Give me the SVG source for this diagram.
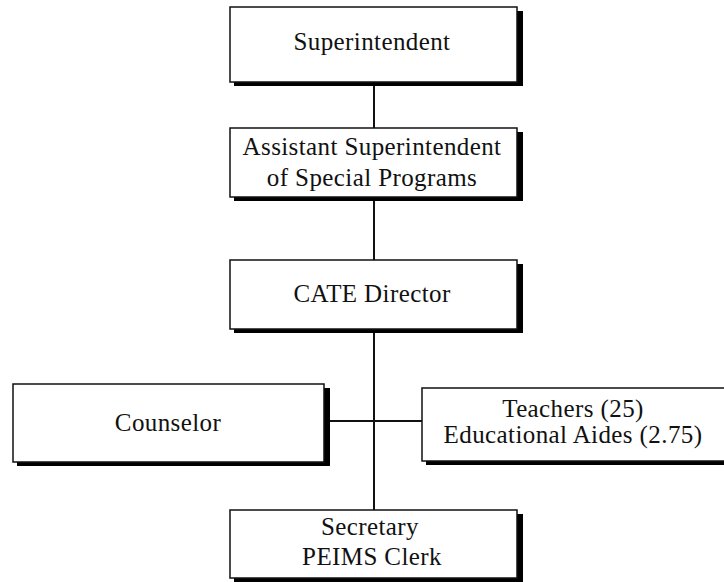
<svg xmlns="http://www.w3.org/2000/svg" width="724" height="582" viewBox="0 0 724 582">
  <style>
    .shadow { fill: #000; }
    .box { fill: #fff; stroke: #111; stroke-width: 1.5; }
    .label { font-family: "Liberation Serif", "Times New Roman", serif; font-size: 25px; letter-spacing: 0.4px; fill: #111; text-anchor: middle; }
    .link { stroke: #111; stroke-width: 2; fill: none; }
  </style>
  <rect x="0" y="0" width="724" height="582" fill="#fff"/>

  <g id="connectors">
    <line class="link" x1="374" y1="82" x2="374" y2="128"/>
    <line class="link" x1="374" y1="197" x2="374" y2="260"/>
    <line class="link" x1="374" y1="329" x2="374" y2="510"/>
    <line class="link" x1="324" y1="421" x2="422" y2="421"/>
  </g>

  <g id="superintendent">
    <rect class="shadow" x="234" y="11" width="289" height="75"/>
    <rect class="box" x="230" y="7" width="287" height="75"/>
    <text class="label" x="372" y="50">Superintendent</text>
  </g>

  <g id="assistant-superintendent">
    <rect class="shadow" x="234" y="132" width="289" height="69"/>
    <rect class="box" x="230" y="128" width="287" height="69"/>
    <text class="label" x="372" y="155">Assistant Superintendent</text>
    <text class="label" x="372" y="186">of Special Programs</text>
  </g>

  <g id="cate-director">
    <rect class="shadow" x="234" y="264" width="289" height="69"/>
    <rect class="box" x="230" y="260" width="287" height="69"/>
    <text class="label" x="372" y="302">CATE Director</text>
  </g>

  <g id="counselor">
    <rect class="shadow" x="17" y="388" width="313" height="78"/>
    <rect class="box" x="13" y="384" width="311" height="78"/>
    <text class="label" x="168" y="431">Counselor</text>
  </g>

  <g id="teachers">
    <rect class="shadow" x="426" y="392" width="310" height="73"/>
    <rect class="box" x="422" y="388" width="310" height="73"/>
    <text class="label" x="573" y="417">Teachers (25)</text>
    <text class="label" x="573" y="443">Educational Aides (2.75)</text>
  </g>

  <g id="secretary">
    <rect class="shadow" x="234" y="514" width="289" height="68"/>
    <rect class="box" x="230" y="510" width="287" height="68"/>
    <text class="label" x="370" y="535">Secretary</text>
    <text class="label" x="372" y="565">PEIMS Clerk</text>
  </g>
</svg>
